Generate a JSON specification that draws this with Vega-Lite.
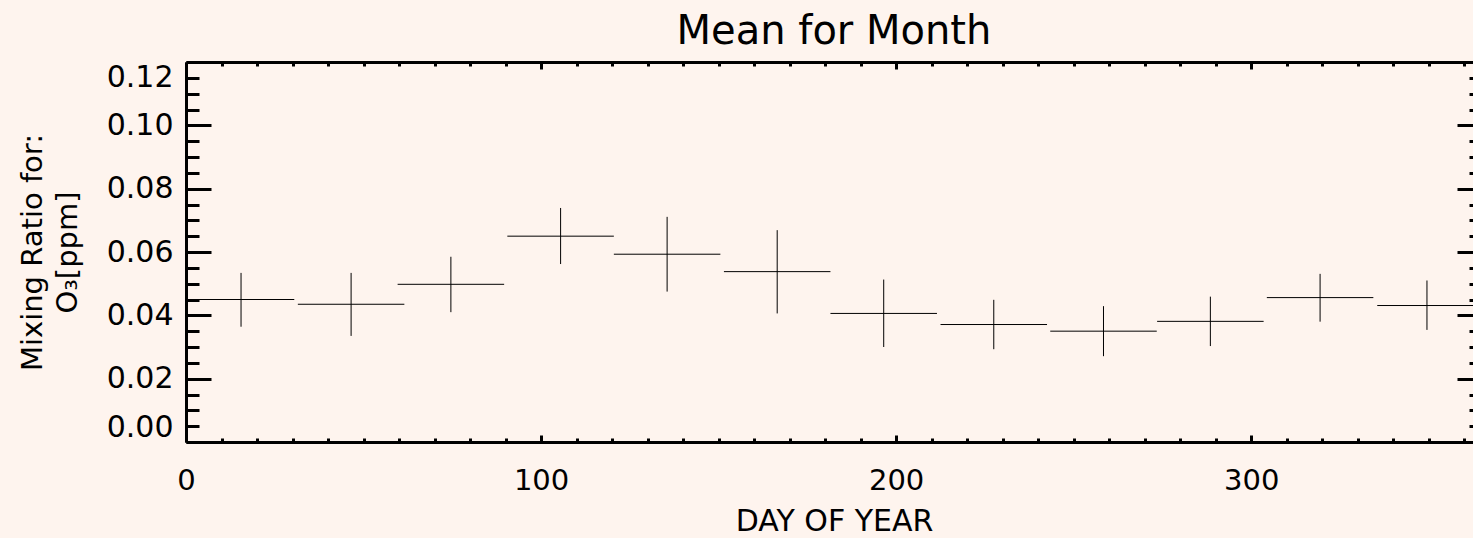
{
  "$schema": "https://vega.github.io/schema/vega-lite/v6.json",
  "width": 1296,
  "height": 380,
  "autosize": {"type": "none"},
  "padding": {"left": 186, "top": 62, "right": 0, "bottom": 96},
  "background": "#fef4ee",
  "title": {
    "text": "Mean for Month",
    "font": "DejaVu Sans",
    "fontSize": 40,
    "fontWeight": "normal",
    "color": "#000000",
    "anchor": "middle",
    "offset": 9
  },
  "config": {
    "view": {"stroke": null},
    "axis": {
      "domainColor": "#000000",
      "domainWidth": 3,
      "tickColor": "#000000",
      "tickWidth": 3,
      "labelColor": "#000000",
      "titleColor": "#000000",
      "labelFont": "DejaVu Sans",
      "titleFont": "DejaVu Sans",
      "labelFontSize": 29,
      "titleFontSize": 29,
      "titleFontWeight": "normal",
      "grid": false,
      "labelOverlap": false,
      "labelBound": false
    }
  },
  "data": {
    "values": [
      {"month": 1, "day_start": 0.5, "day_end": 30.5, "day_mid": 15.5, "mean": 0.0450, "low": 0.0364, "high": 0.0534},
      {"month": 2, "day_start": 31.5, "day_end": 61.5, "day_mid": 46.5, "mean": 0.0435, "low": 0.0335, "high": 0.0534},
      {"month": 3, "day_start": 59.6, "day_end": 89.6, "day_mid": 74.6, "mean": 0.0498, "low": 0.0410, "high": 0.0585},
      {"month": 4, "day_start": 90.5, "day_end": 120.5, "day_mid": 105.5, "mean": 0.0650, "low": 0.0562, "high": 0.0739},
      {"month": 5, "day_start": 120.5, "day_end": 150.5, "day_mid": 135.5, "mean": 0.0593, "low": 0.0475, "high": 0.0711},
      {"month": 6, "day_start": 151.5, "day_end": 181.5, "day_mid": 166.5, "mean": 0.0538, "low": 0.0406, "high": 0.0669},
      {"month": 7, "day_start": 181.5, "day_end": 211.5, "day_mid": 196.5, "mean": 0.0406, "low": 0.0300, "high": 0.0513},
      {"month": 8, "day_start": 212.5, "day_end": 242.5, "day_mid": 227.5, "mean": 0.0371, "low": 0.0293, "high": 0.0449},
      {"month": 9, "day_start": 243.4, "day_end": 273.4, "day_mid": 258.4, "mean": 0.0350, "low": 0.0271, "high": 0.0429},
      {"month": 10, "day_start": 273.5, "day_end": 303.5, "day_mid": 288.5, "mean": 0.0381, "low": 0.0303, "high": 0.0459},
      {"month": 11, "day_start": 304.4, "day_end": 334.4, "day_mid": 319.4, "mean": 0.0456, "low": 0.0380, "high": 0.0531},
      {"month": 12, "day_start": 335.5, "day_end": 365.5, "day_mid": 349.5, "mean": 0.0431, "low": 0.0354, "high": 0.0510}
    ]
  },
  "resolve": {"axis": {"x": "independent", "y": "independent"}},
  "layer": [
    {
      "mark": {"type": "rule", "color": "#000000", "strokeWidth": 1, "clip": true},
      "encoding": {
        "x": {
          "field": "day_start",
          "type": "quantitative",
          "scale": {"domain": [0, 365], "nice": false, "zero": false},
          "axis": {
            "orient": "bottom",
            "title": "DAY OF YEAR",
            "titleFontSize": 30,
            "values": [0, 10, 20, 30, 40, 50, 60, 70, 80, 90, 100, 110, 120, 130, 140, 150, 160, 170, 180, 190, 200, 210, 220, 230, 240, 250, 260, 270, 280, 290, 300, 310, 320, 330, 340, 350, 360],
            "tickSize": {"condition": {"test": "datum.value % 100 === 0", "value": -7}, "value": -4},
            "labelExpr": "datum.value % 100 === 0 ? datum.label : ''",
            "labelFlush": false,
            "labelPadding": 31,
            "titlePadding": 8
          }
        },
        "x2": {"field": "day_end"},
        "y": {
          "field": "mean",
          "type": "quantitative",
          "scale": {"domain": [0, 0.12], "nice": false, "zero": false},
          "axis": {
            "orient": "left",
            "title": ["Mixing Ratio for:", "O₃[ppm]"],
            "titleLineHeight": 35,
            "titlePadding": 24,
            "values": [0, 0.005, 0.01, 0.015, 0.02, 0.025, 0.03, 0.035, 0.04, 0.045, 0.05, 0.055, 0.06, 0.065, 0.07, 0.075, 0.08, 0.085, 0.09, 0.095, 0.1, 0.105, 0.11, 0.115, 0.12],
            "format": ".2f",
            "labelFontSize": 30,
            "tickSize": {"condition": {"test": "abs(datum.value * 50 - round(datum.value * 50)) < 0.001", "value": -25}, "value": -13},
            "labelExpr": "abs(datum.value * 50 - round(datum.value * 50)) < 0.001 ? datum.label : ''",
            "labelFlush": true,
            "labelPadding": 38
          }
        }
      }
    },
    {
      "mark": {"type": "rule", "color": "#000000", "strokeWidth": 1, "clip": true},
      "encoding": {
        "x": {
          "field": "day_mid",
          "type": "quantitative",
          "axis": {
            "orient": "top",
            "title": null,
            "labels": false,
            "values": [0, 10, 20, 30, 40, 50, 60, 70, 80, 90, 100, 110, 120, 130, 140, 150, 160, 170, 180, 190, 200, 210, 220, 230, 240, 250, 260, 270, 280, 290, 300, 310, 320, 330, 340, 350, 360],
            "tickSize": {"condition": {"test": "datum.value % 100 === 0", "value": -7}, "value": -4}
          }
        },
        "y": {
          "field": "low",
          "type": "quantitative",
          "axis": {
            "orient": "right",
            "title": null,
            "labels": false,
            "values": [0, 0.005, 0.01, 0.015, 0.02, 0.025, 0.03, 0.035, 0.04, 0.045, 0.05, 0.055, 0.06, 0.065, 0.07, 0.075, 0.08, 0.085, 0.09, 0.095, 0.1, 0.105, 0.11, 0.115, 0.12],
            "tickSize": {"condition": {"test": "abs(datum.value * 50 - round(datum.value * 50)) < 0.001", "value": -25}, "value": -13}
          }
        },
        "y2": {"field": "high"}
      }
    }
  ]
}
